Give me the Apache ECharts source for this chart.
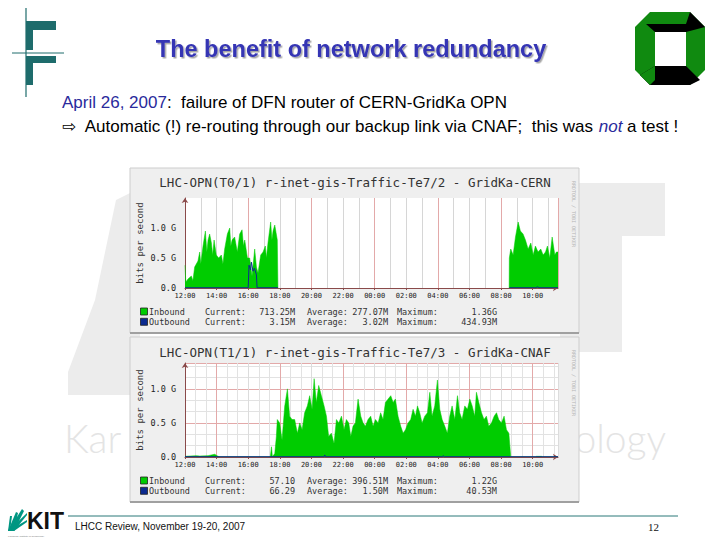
<!DOCTYPE html>
<html><head><meta charset="utf-8">
<script src="https://cdn.jsdelivr.net/npm/echarts@6/dist/echarts.min.js"></script>
<style>html,body{margin:0;padding:0;background:#fff}#c{width:720px;height:540px}</style>
</head><body><div id="c"></div>
<script>
// ---------------- data ----------------
const timeLabels = ['12:00','14:00','16:00','18:00','20:00','22:00','00:00','02:00','04:00','06:00','08:00','10:00'];
const graphTitles = ['LHC-OPN(T0/1) r-inet-gis-Traffic-Te7/2 - GridKa-CERN', 'LHC-OPN(T1/1) r-inet-gis-Traffic-Te7/3 - GridKa-CNAF'];
const yAxisName = 'bits per second';
const rrdCredit = 'RRDTOOL / TOBI OETIKER';
// hours since 12:00, Gbit/s
const cernInbound = [[0,0.38],[0.05,0.1],[0.19,0.15],[0.4,0.2],[0.5,0.12],[0.61,0.35],[0.82,0.45],[0.93,0.6],[1.0,0.4],[1.14,0.7],[1.29,0.95],[1.38,0.6],[1.46,0.8],[1.56,0.9],[1.67,0.75],[1.75,0.55],[1.84,0.8],[1.98,0.55],[2.13,0.5],[2.3,0.55],[2.4,0.4],[2.51,0.65],[2.68,0.9],[2.83,1.0],[2.9,0.7],[2.98,0.8],[3.14,0.85],[3.31,0.6],[3.46,0.9],[3.61,0.97],[3.7,0.7],[3.78,0.8],[3.95,0.5],[4.09,0.5],[4.24,0.2],[4.41,0.65],[4.52,0.35],[4.62,0.25],[4.79,0.55],[4.94,0.6],[5.08,0.7],[5.15,0.5],[5.25,0.75],[5.42,1.1],[5.5,0.8],[5.57,0.95],[5.68,1.05],[5.84,0.8],[5.88,0],[5.9,null],[20.5,null],[20.51,0],[20.52,0.5],[20.61,0.65],[20.76,0.55],[20.91,0.85],[21.08,1.1],[21.22,0.95],[21.39,0.9],[21.54,0.8],[21.71,0.65],[21.88,0.75],[22.03,0.55],[22.17,0.7],[22.34,0.6],[22.51,0.65],[22.66,0.55],[22.81,0.6],[22.93,0.7],[23.08,0.5],[23.23,0.85],[23.4,0.55],[23.5,0.6],[23.6,0.6]];
const cernOutbound = [[0,0.004],[4.0,0.004],[4.05,0.38],[4.15,0.3],[4.2,0.43],[4.3,0.28],[4.4,0.33],[4.52,0.22],[4.56,0.004],[5.88,0.004],[5.9,null],[20.5,null],[20.52,0.004],[22.2,0.004],[22.3,0.02],[22.4,0.004],[23.6,0.004]];
const cnafInbound = [[0,0.01],[0.72,0.02],[0.93,0.015],[1.46,0.02],[1.88,0.04],[2.09,0.01],[2.2,0.004],[5.4,0.004],[5.47,0.15],[5.53,0.004],[5.68,0.05],[5.78,0.3],[5.84,0.55],[5.99,0.5],[6.14,0.25],[6.31,0.75],[6.48,1.0],[6.62,0.6],[6.77,0.55],[6.94,0.55],[7.11,0.35],[7.26,0.5],[7.41,0.4],[7.57,0.65],[7.74,0.75],[7.89,0.9],[8.04,0.7],[8.17,1.15],[8.31,0.8],[8.46,1.05],[8.63,0.9],[8.8,0.75],[8.95,0.6],[9.09,0.3],[9.26,0.35],[9.43,0.2],[9.58,0.55],[9.73,0.5],[9.9,0.6],[10.06,0.4],[10.21,0.55],[10.36,0.5],[10.49,0.3],[10.63,0.45],[10.78,0.5],[10.95,0.85],[11.12,0.6],[11.27,0.5],[11.41,0.45],[11.58,0.55],[11.75,0.6],[11.9,0.45],[12.05,0.55],[12.22,0.5],[12.38,0.65],[12.53,0.55],[12.68,0.8],[12.85,0.85],[13.02,0.9],[13.17,0.8],[13.31,0.85],[13.48,0.6],[13.65,0.45],[13.8,0.35],[13.95,0.4],[14.11,0.5],[14.28,0.55],[14.43,0.7],[14.58,0.6],[14.71,0.75],[14.85,0.65],[15.0,0.5],[15.17,0.6],[15.34,0.65],[15.49,0.95],[15.63,0.6],[15.8,0.75],[15.97,1.13],[16.12,0.7],[16.27,0.55],[16.44,0.45],[16.6,0.35],[16.75,0.6],[16.9,0.75],[17.07,0.55],[17.24,0.9],[17.38,0.65],[17.53,0.55],[17.7,0.75],[17.87,0.7],[18.02,0.85],[18.17,0.75],[18.33,0.6],[18.44,0.95],[18.59,0.8],[18.76,0.65],[18.92,0.55],[19.07,0.6],[19.22,0.45],[19.39,0.5],[19.56,0.6],[19.71,0.65],[19.85,0.55],[20.02,0.5],[20.19,0.6],[20.34,0.4],[20.49,0.35],[20.61,0.004],[22.2,0.004],[22.24,0.01],[22.55,0.01],[22.6,0.004],[23.6,0.004]];
const cnafOutbound = [[0,0.004],[8.8,0.004],[8.84,0.03],[8.9,0.004],[16.3,0.004],[16.33,0.02],[16.4,0.004],[23.6,0.004]];
const legendLabels = ['Inbound','Outbound'];
const statNames = ['Current:','Average:','Maximum:'];
const cernStats = [['713.25M','277.07M','1.36G'],['3.15M','3.02M','434.93M']];
const cnafStats = [['57.10','396.51M','1.22G'],['66.29','1.50M','40.53M']];
const slideTitle = 'The benefit of network redundancy';
const line1Date = 'April 26, 2007';
const line1Rest = ':  failure of DFN router of CERN-GridKa OPN';
const line2a = '\u21E8  Automatic (!) re-routing through our backup link via CNAF;  this was ';
const line2b = 'not';
const line2c = ' a test !';
const footerText = 'LHCC Review, November 19-20, 2007';
const pageNo = '12';
const watermarkLeft = 'Kar';
const watermarkRight = 'ology';

// ---------------- chart ----------------
const GREEN = '#00cc00', NAVY = '#0b2a8f', AXIS = '#8a4a4a', RED = '#e3a9a9', GREY = '#d6d6d6';
const MONO = "'DejaVu Sans Mono', monospace";

function xAxisFor(gi, cols){
  return {type:'value', gridIndex:gi, min:0, max:23.6, interval:2,
    axisLine:{show:true, onZero:false, lineStyle:{color:AXIS, width:1}, symbol:['none','arrow'], symbolSize:[5,5]},
    axisTick:{show:true, length:2, lineStyle:{color:AXIS}},
    axisLabel:{margin:4, fontFamily:MONO, fontSize:7, color:'#222', showMaxLabel:false, showMinLabel:true,
      formatter:v=>{const i=Math.round(v/2); return (Math.abs(v-2*i)<1e-6 && timeLabels[i])?timeLabels[i]:'';}},
    splitLine:{show:true, lineStyle:{color:cols, width:1}},
    minorTick:{show:false, splitNumber:gi===0?2:3},
    minorSplitLine:{show:true, lineStyle:{color:gi===0?GREY:'#e2e2e2', width:1}}
  };
}
function yAxisFor(gi, max, grid){
  return {type:'value', gridIndex:gi, min:0, max:max, interval:0.5,
    axisLine:{show:true, lineStyle:{color:AXIS, width:1}, symbol:['none','arrow'], symbolSize:[5,5]},
    axisTick:{show:false},
    axisLabel:{margin:9, fontFamily:MONO, fontSize:8.5, color:'#222', showMaxLabel:false,
      formatter:v=> v===0?'0.0':(v.toFixed(1)+' G')},
    splitLine:{show:grid, lineStyle:{color:RED, width:1}},
    minorTick:{show:false, splitNumber:3},
    minorSplitLine:{show:grid, lineStyle:{color:'#e2e2e2', width:1}}
  };
}
function areaSeries(gi, data){
  return {type:'line', xAxisIndex:gi, yAxisIndex:gi, data:data, showSymbol:false, connectNulls:false,
    lineStyle:{width:0.5, color:GREEN}, areaStyle:{color:GREEN, opacity:1}, z:3, silent:true};
}
function lineSeries(gi, data){
  return {type:'line', xAxisIndex:gi, yAxisIndex:gi, data:data, showSymbol:false, connectNulls:false,
    lineStyle:{width:1, color:NAVY}, z:4, silent:true};
}

const g = [];
// watermark
const WM = '#ececec';
g.push({type:'rect', z:-20, shape:{x:560,y:183,width:105,height:53}, style:{fill:WM}});
g.push({type:'rect', z:-20, shape:{x:560,y:236,width:62,height:116}, style:{fill:WM}});
g.push({type:'polygon', z:-20, shape:{points:[[116,200],[140,188],[140,395],[68,395],[68,372],[95,300]]}, style:{fill:WM}});
g.push({type:'text', z:-19, style:{text:watermarkLeft, x:64, y:438, textVerticalAlign:'middle', font:"300 39px Lato", fill:'#e4e4e4'}});
g.push({type:'text', z:-19, style:{text:watermarkRight, x:666, y:438, textAlign:'right', textVerticalAlign:'middle', font:"300 39px Lato", fill:'#e4e4e4'}});
// panels
function panel(y){
  g.push({type:'rect', z:-10, shape:{x:130,y:y,width:449,height:165}, style:{fill:'#efefef', stroke:'#cdcdcd', lineWidth:1}});
  g.push({type:'line', z:-9, shape:{x1:130,y1:y+165,x2:579,y2:y+165}, style:{stroke:'#a0a0a0', lineWidth:2}});
}
panel(168); panel(337);
// graph titles, y names, credits
[[182,243,214],[352,410,383]].forEach((p,i)=>{
  g.push({type:'text', style:{text:graphTitles[i], x:355, y:p[0], textAlign:'center', textVerticalAlign:'middle', font:"12.5px "+MONO, fill:'#333'}});
  g.push({type:'text', rotation:Math.PI/2, x:140, y:p[1], style:{text:yAxisName, x:0, y:0, textAlign:'center', textVerticalAlign:'middle', font:"9px "+MONO, fill:'#333'}});
  g.push({type:'text', rotation:-Math.PI/2, x:574, y:p[2], style:{text:rrdCredit, x:0, y:0, textAlign:'center', textVerticalAlign:'middle', font:"5px "+MONO, fill:'#b5b5b5'}});
});
// graph legends
function legendBlock(y0, stats){
  [0,1].forEach(r=>{
    const y = y0 + r*10.3;
    g.push({type:'rect', shape:{x:140.5,y:y-3.5,width:7,height:7}, style:{fill:r===0?GREEN:NAVY, stroke:'#222', lineWidth:0.8}});
    const f = "8.5px "+MONO;
    g.push({type:'text', style:{text:legendLabels[r], x:149, y:y, textVerticalAlign:'middle', font:f, fill:'#333'}});
    g.push({type:'text', style:{text:statNames[0], x:205, y:y, textVerticalAlign:'middle', font:f, fill:'#333'}});
    g.push({type:'text', style:{text:stats[r][0], x:295, y:y, textAlign:'right', textVerticalAlign:'middle', font:f, fill:'#333'}});
    g.push({type:'text', style:{text:statNames[1], x:307, y:y, textVerticalAlign:'middle', font:f, fill:'#333'}});
    g.push({type:'text', style:{text:stats[r][1], x:388, y:y, textAlign:'right', textVerticalAlign:'middle', font:f, fill:'#333'}});
    g.push({type:'text', style:{text:statNames[2], x:397, y:y, textVerticalAlign:'middle', font:f, fill:'#333'}});
    g.push({type:'text', style:{text:stats[r][2], x:497, y:y, textAlign:'right', textVerticalAlign:'middle', font:f, fill:'#333'}});
  });
}
legendBlock(311.5, cernStats);
legendBlock(480.5, cnafStats);

// header
const TEAL = '#1e6c6c';
g.push({type:'line', shape:{x1:26,y1:8,x2:26,y2:97}, style:{stroke:TEAL, lineWidth:1.2}});
g.push({type:'line', shape:{x1:12,y1:53,x2:64,y2:53}, style:{stroke:TEAL, lineWidth:1}});
g.push({type:'rect', shape:{x:26,y:21,width:30,height:9}, style:{fill:TEAL}});
g.push({type:'rect', shape:{x:26,y:21,width:7,height:29}, style:{fill:TEAL}});
g.push({type:'rect', shape:{x:26,y:56,width:30,height:7}, style:{fill:TEAL}});
g.push({type:'rect', shape:{x:26,y:56,width:7,height:29}, style:{fill:TEAL}});
// university logo
g.push({type:'polygon', shape:{points:[[650,12],[690,12],[705,27],[705,70],[690,85],[650,85],[635,70],[635,27]]}, style:{fill:'#108a10'}});
g.push({type:'polygon', shape:{points:[[646,24],[694,24],[686,32],[655,32]]}, style:{fill:'#000'}});
g.push({type:'polygon', shape:{points:[[690,12],[705,27],[686,32],[686,24]]}, style:{fill:'#000'}});
g.push({type:'polygon', shape:{points:[[655,66],[686,66],[700,80],[690,85],[650,85],[640,75]]}, style:{fill:'#000'}});
g.push({type:'polygon', shape:{points:[[650,85],[640,75],[655,66],[655,80]]}, style:{fill:'#108a10'}});
g.push({type:'rect', shape:{x:655,y:32,width:31,height:34}, style:{fill:'#fff'}});
// title
g.push({type:'text', style:{text:slideTitle, x:351, y:49, textAlign:'center', textVerticalAlign:'middle', font:"bold 23.5px 'Liberation Sans', Arial", fill:'#3434b4', textShadowColor:'rgba(0,0,0,0.35)', textShadowOffsetX:1.5, textShadowOffsetY:1.5, textShadowBlur:1}});
g.push({type:'text', style:{text:'{b|'+line1Date+'}{a|'+line1Rest+'}', x:62, y:102, textVerticalAlign:'middle',
  rich:{a:{fontFamily:"'Liberation Sans', Arial", fontSize:17, fill:'#000', color:'#000'}, b:{fontFamily:"'Liberation Sans', Arial", fontSize:17, color:'#2a2a9c', fill:'#2a2a9c'}}}});
g.push({type:'text', style:{text:'{a|'+line2a+'}{b|'+line2b+'}{a|'+line2c+'}', x:62, y:126, textVerticalAlign:'middle',
  rich:{a:{fontFamily:"'Liberation Sans', 'DejaVu Sans', Arial", fontSize:17, color:'#000', fill:'#000'}, b:{fontFamily:"'Liberation Sans', Arial", fontStyle:'italic', fontSize:17, color:'#2a2a9c', fill:'#2a2a9c'}}}});
// footer
g.push({type:'line', shape:{x1:68,y1:516,x2:678,y2:516}, style:{stroke:'#2a7878', lineWidth:1}});
g.push({type:'text', style:{text:footerText, x:75, y:526, textVerticalAlign:'middle', font:"10px 'Liberation Sans', Arial", fill:'#111'}});
g.push({type:'text', style:{text:pageNo, x:648, y:527, textVerticalAlign:'middle', font:"11px 'Liberation Serif', serif", fill:'#111'}});
// KIT logo
[[[8,531],[14,531],[24,511],[22,509]],[[8,531],[14,531],[18,513],[16,512]],[[8,531],[10,531],[12,516],[10,516]],[[8,531],[14,531],[27,515],[27,513]],[[8,531],[14,531],[27,522],[27,520]]].forEach(p=>{
  g.push({type:'polygon', shape:{points:p}, style:{fill:'#009682'}});
});
g.push({type:'text', style:{text:'KIT', x:27, y:521, textVerticalAlign:'middle', font:"bold 23px 'Liberation Sans', Arial", fill:'#111'}});
g.push({type:'text', style:{text:'Karlsruhe Institute of Technology', x:8, y:536, textVerticalAlign:'middle', font:"2.5px 'Liberation Sans', Arial", fill:'#777'}});

const option = {
  animation:false,
  backgroundColor:'#fff',
  grid:[
    {left:185, top:198, width:373, height:90, show:true, backgroundColor:'#fff', borderWidth:0, containLabel:false},
    {left:185, top:363, width:373, height:94, show:true, backgroundColor:'#fff', borderWidth:0, containLabel:false}
  ],
  xAxis:[xAxisFor(0,[RED,GREY]), xAxisFor(1,['#dcdcdc',RED])],
  yAxis:[yAxisFor(0,1.5,false), yAxisFor(1,1.38,true)],
  series:[areaSeries(0,cernInbound), lineSeries(0,cernOutbound), areaSeries(1,cnafInbound), lineSeries(1,cnafOutbound)],
  graphic:g
};
const chart = echarts.init(document.getElementById('c'), null, {renderer:'svg'});
chart.setOption(option);
</script></body></html>
